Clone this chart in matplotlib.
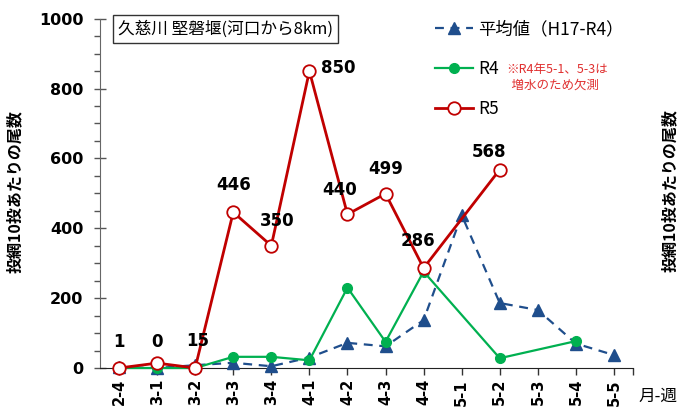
import matplotlib
matplotlib.use("Agg")
import matplotlib.pyplot as plt
import numpy as np
from matplotlib.ticker import MultipleLocator

weeks = ["2-4", "3-1", "3-2", "3-3", "3-4", "4-1", "4-2", "4-3", "4-4", "5-1", "5-2", "5-3", "5-4", "5-5"]
avg_vals = [2, 0, 8, 15, 5, 30, 72, 62, 137, 438, 186, 166, 70, 37]
r4_vals = [0, 0, 0, 32, 32, 22, 230, 75, 276, np.nan, 28, np.nan, 77, np.nan]
r5_vals = [0, 14, 0, 446, 350, 850, 440, 499, 286, np.nan, 568, np.nan, np.nan, np.nan]
r5_labels = ["1", "0", "15", "446", "350", "850", "440", "499", "286", "", "568", "", "", ""]

JP = ["Noto Sans CJK JP", "DejaVu Sans"]
NUM = ["DejaVu Sans", "Noto Sans CJK JP"]

fig = plt.figure(figsize=(6.78, 4.12), dpi=100)
ax = fig.add_axes([100/678, 1-368/412, 533/678, (368-18.7)/412])

x = np.arange(len(weeks))

def plot_valid(vals, **kw):
    v = np.array(vals, dtype=float)
    m = ~np.isnan(v)
    return ax.plot(x[m], v[m], clip_on=False, **kw)

blue = "#1f4e8c"
green = "#00b050"
red = "#c00000"

la, = plot_valid(avg_vals, color=blue, lw=1.6, ls=(0, (4, 3)), marker="^", ms=9,
                 mfc=blue, mec=blue, zorder=3)
l4, = plot_valid(r4_vals, color=green, lw=1.6, marker="o", ms=7, mfc=green, mec=green, zorder=4)
l5, = plot_valid(r5_vals, color=red, lw=2.0, marker="o", ms=9, mfc="white", mec=red, mew=1.3, zorder=5)

# data labels (offsets in points)
offsets = {0: (0, 12), 1: (0, 9), 2: (2, 13), 3: (0, 13), 4: (4, 11), 5: (21, -4),
           6: (-6, 11), 7: (0, 11), 8: (-4, 13), 10: (-8, 6)}
for i, lab in enumerate(r5_labels):
    if lab:
        dx, dy = offsets[i]
        ax.annotate(lab, (x[i], r5_vals[i]), xytext=(dx, dy), textcoords="offset points",
                    ha="center", va="bottom", fontsize=12, fontweight="bold", family=NUM,
                    zorder=6)

ax.set_xlim(-0.5, len(weeks) - 0.5)
ax.set_ylim(0, 1000)
ax.set_xticks(x)
ax.set_xticklabels(weeks, rotation=90, fontsize=10.5, family=NUM, fontweight="bold")
ax.yaxis.set_major_locator(MultipleLocator(200))
ax.yaxis.set_minor_locator(MultipleLocator(50))
for t in ax.get_yticklabels():
    t.set_fontsize(11.5)
    t.set_fontweight("bold")
    t.set_family(NUM)
ax.tick_params(axis="y", which="major", direction="inout", length=8, width=1, color="#555555", pad=8)
ax.tick_params(axis="y", which="minor", direction="out", length=4, width=1, color="#555555")
ax.tick_params(axis="x", which="both", direction="out", length=5, width=1, color="#333333", pad=3)
ax.set_xticks([len(weeks) - 0.5], minor=True)

for s in ["top", "right"]:
    ax.spines[s].set_visible(False)
ax.spines["left"].set_color("#666666")
ax.spines["bottom"].set_color("#222222")

fig.text(15/678, 1-192/412, "投網10投あたりの尾数", rotation=90, ha="center", va="center",
         fontsize=11.5, fontweight="bold", family=JP)
fig.text(670/678, 1-191/412, "投網10投あたりの尾数", rotation=90, ha="center", va="center",
         fontsize=11.5, fontweight="bold", family=JP)
fig.text(638/678, 1-396/412, "月-週", ha="left", va="center", fontsize=12, family=JP)

ax.text(0.033, 0.97, "久慈川 堅磐堰(河口から8km)", transform=ax.transAxes, ha="left", va="center",
        fontsize=12, family=JP,
        bbox=dict(boxstyle="square,pad=0.3", fc="white", ec="#333333", lw=1))

leg = ax.legend([la, l4, l5], ["平均値（H17-R4）", "R4", "R5"], loc="upper left",
                bbox_to_anchor=(0.615, 1.015), frameon=False, prop={"family": JP, "size": 12.5},
                labelspacing=1.25, handlelength=2.2, handletextpad=0.3, borderaxespad=0)

fig.text(506/678, 1-77/412, "※R4年5-1、5-3は\n  増水のため欠測", ha="left", va="center",
         fontsize=9, color="#e03030", family=JP, linespacing=1.25)

fig.savefig("out.png", dpi=100)
